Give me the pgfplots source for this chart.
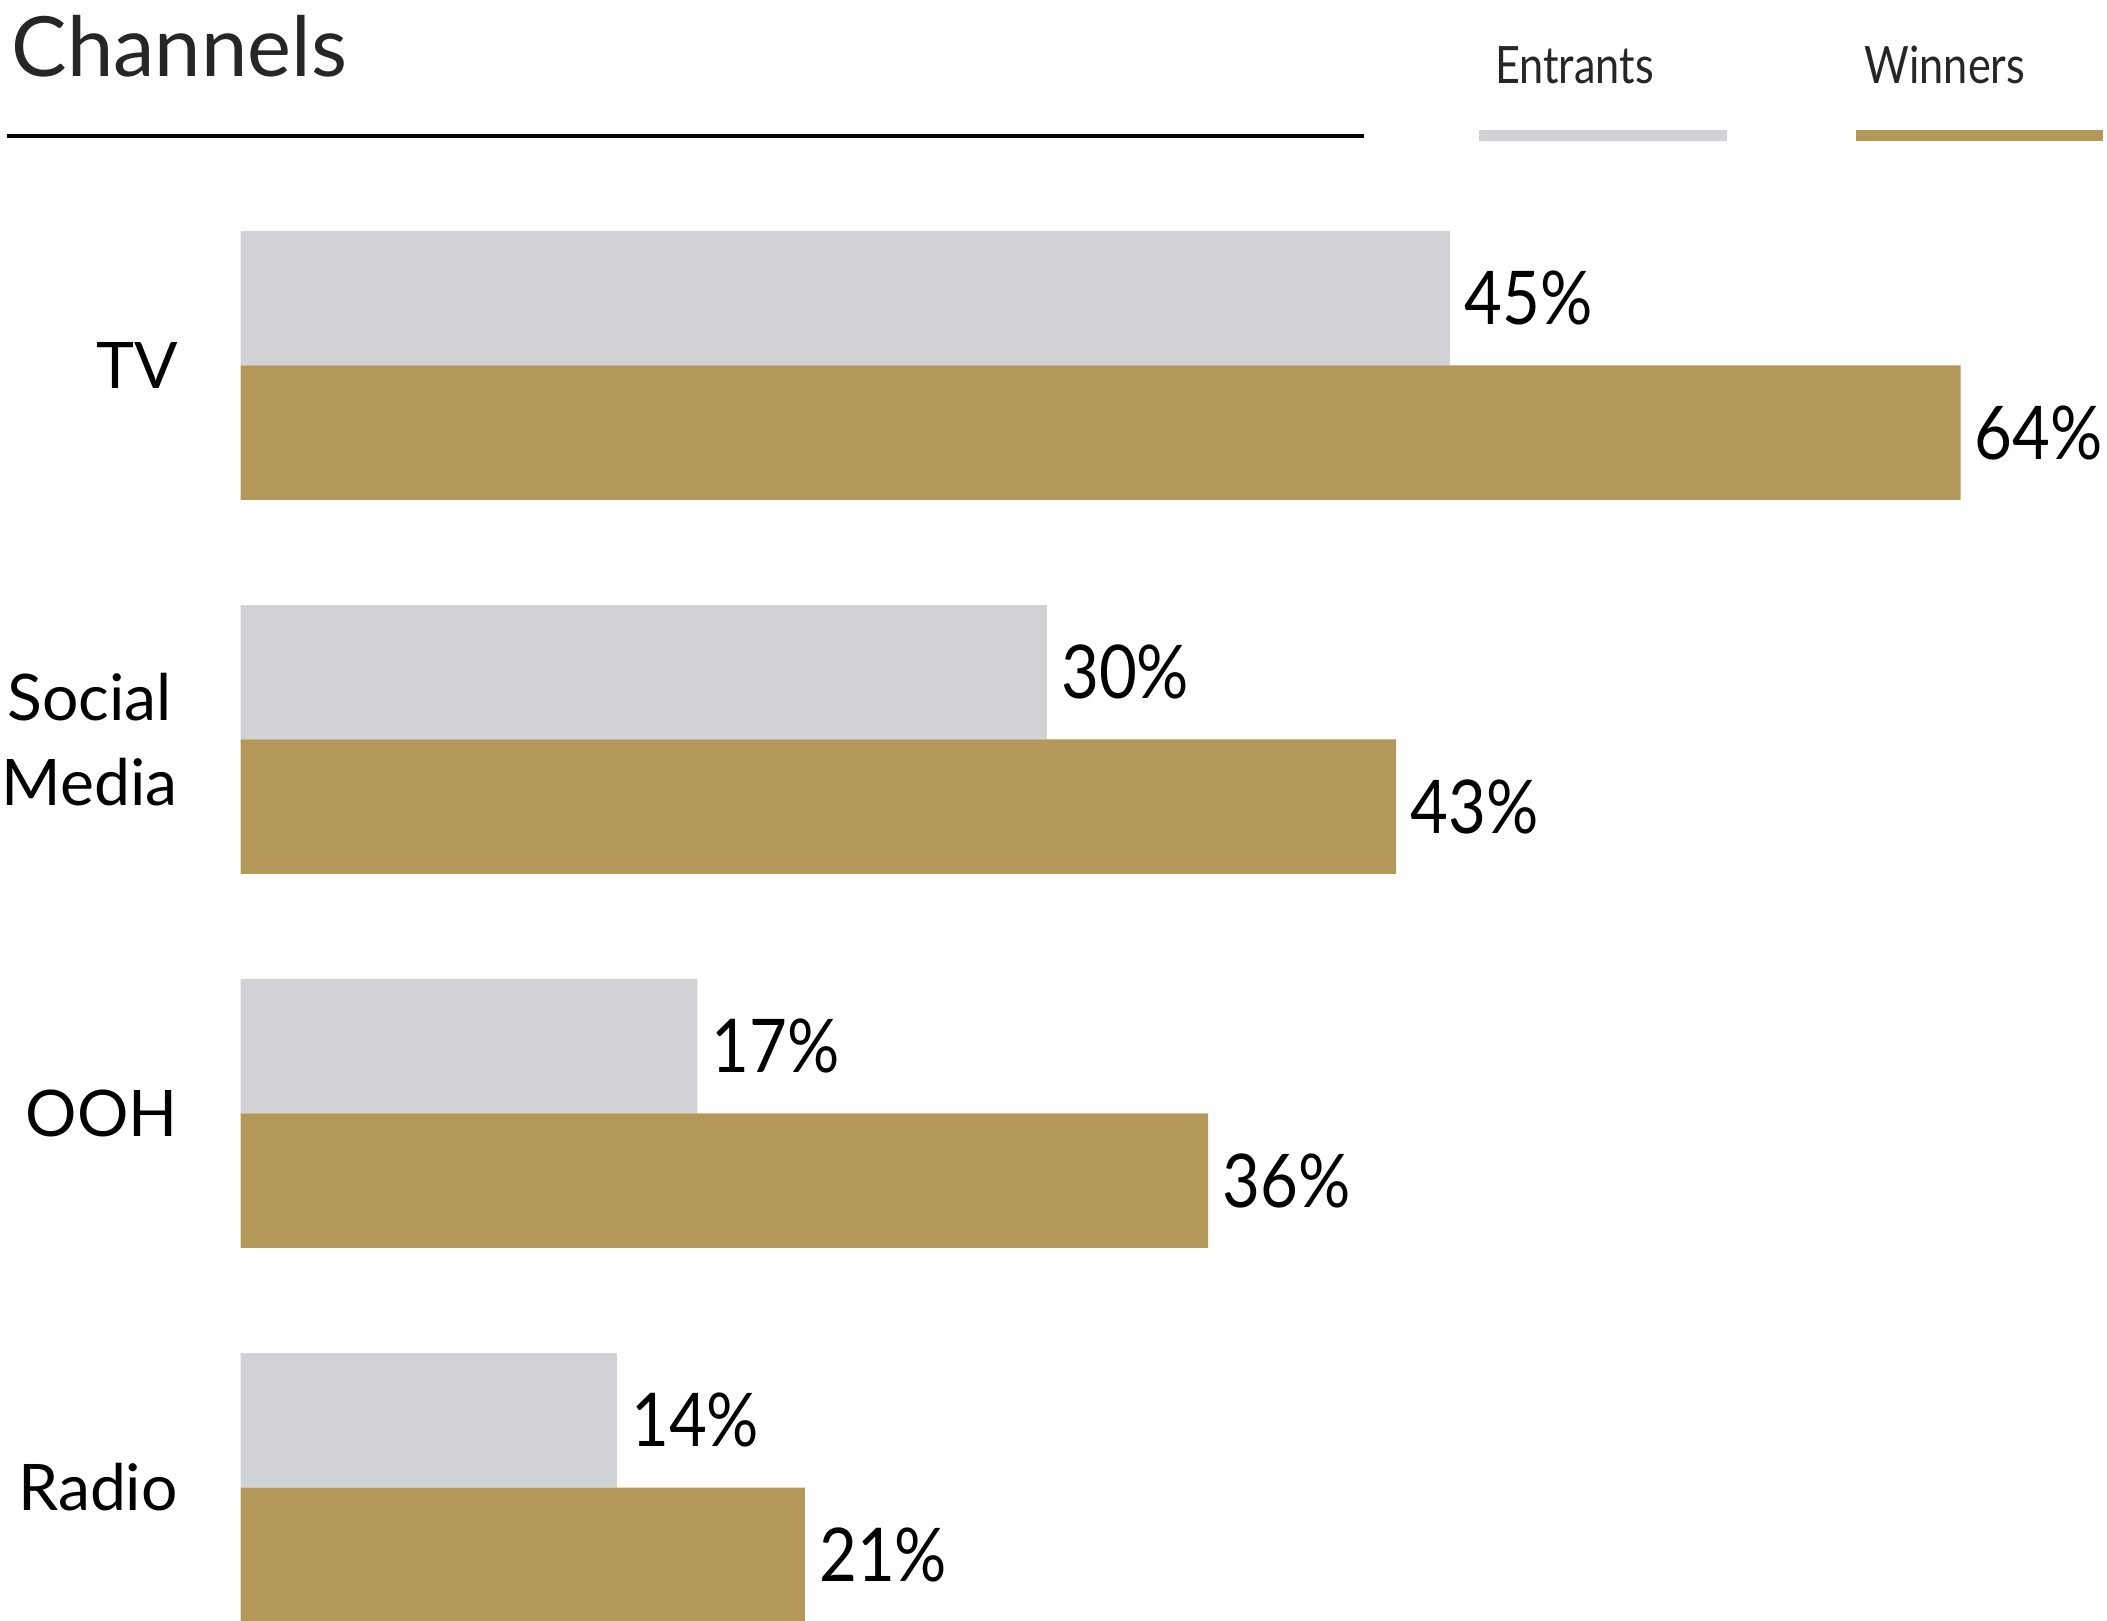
\documentclass[border=0pt]{standalone}
\usepackage{pgfplots}
\pgfplotsset{compat=1.18}
\usepackage{fontspec}
\setmainfont{Lato}
\newfontfamily\valfont{Lato}[FakeStretch=0.88]
\newfontfamily\legfont{Lato}[FakeStretch=0.84]
\definecolor{entr}{HTML}{D1D2D5}
\definecolor{winn}{HTML}{B4985A}
\definecolor{titlec}{HTML}{262626}
\begin{document}
\begin{tikzpicture}
\begin{axis}[
  at={(0,0)}, anchor=south west,
  scale only axis, width=138.9mm, height=120.6mm,
  xmin=0, xmax=69.45, ymin=-0.3557, ymax=3.977,
  axis line style={draw=none}, major tick style={draw=none},
  clip=false,
  xbar, bar width=10mm,
  xtick=\empty, ytick={0,1,2,3},
  yticklabels={Radio,OOH,{Social\\Media},TV},
  yticklabel style={font=\fontsize{13.6}{17.9}\selectfont, align=center, anchor=east, inner sep=0pt, xshift=-3.1mm, text=black},
  nodes near coords={\valfont\pgfmathprintnumber[assume math mode=true]{\pgfplotspointmeta}\%},
  point meta=x,
  nodes near coords style={font=\valfont\fontsize{15.7}{18}\selectfont, anchor=west, inner sep=0pt, xshift=1mm, text=black},
]
\addplot[fill=entr, draw=none, bar shift=5mm] coordinates {(14,0) (17,1) (30,2) (45,3)};
\addplot[fill=winn, draw=none, bar shift=-5mm] coordinates {(21,0) (36,1) (43,2) (64,3)};
\end{axis}
\node[anchor=base west, inner sep=0pt, font=\fontsize{17.6}{20}\selectfont, text=titlec] at (-17.1mm,114.9mm) {Channels};
\draw[line width=0.3mm, black] (-17.4mm,110.5mm) -- (83.6mm,110.5mm);
\node[anchor=base west, inner sep=0pt, font=\legfont\fontsize{10.9}{12}\selectfont, text=titlec] at (93.3mm,114.4mm) {Entrants};
\node[anchor=base west, inner sep=0pt, font=\legfont\fontsize{10.9}{12}\selectfont, text=titlec] at (120.8mm,114.4mm) {Winners};
\draw[line width=0.85mm, entr] (92.2mm,110.5mm) -- (110.6mm,110.5mm);
\draw[line width=0.85mm, winn] (120.2mm,110.5mm) -- (138.6mm,110.5mm);
\pgfresetboundingbox
\path[use as bounding box] (-17.9mm,0) rectangle (138.9mm,120.6mm);
\end{tikzpicture}
\end{document}
